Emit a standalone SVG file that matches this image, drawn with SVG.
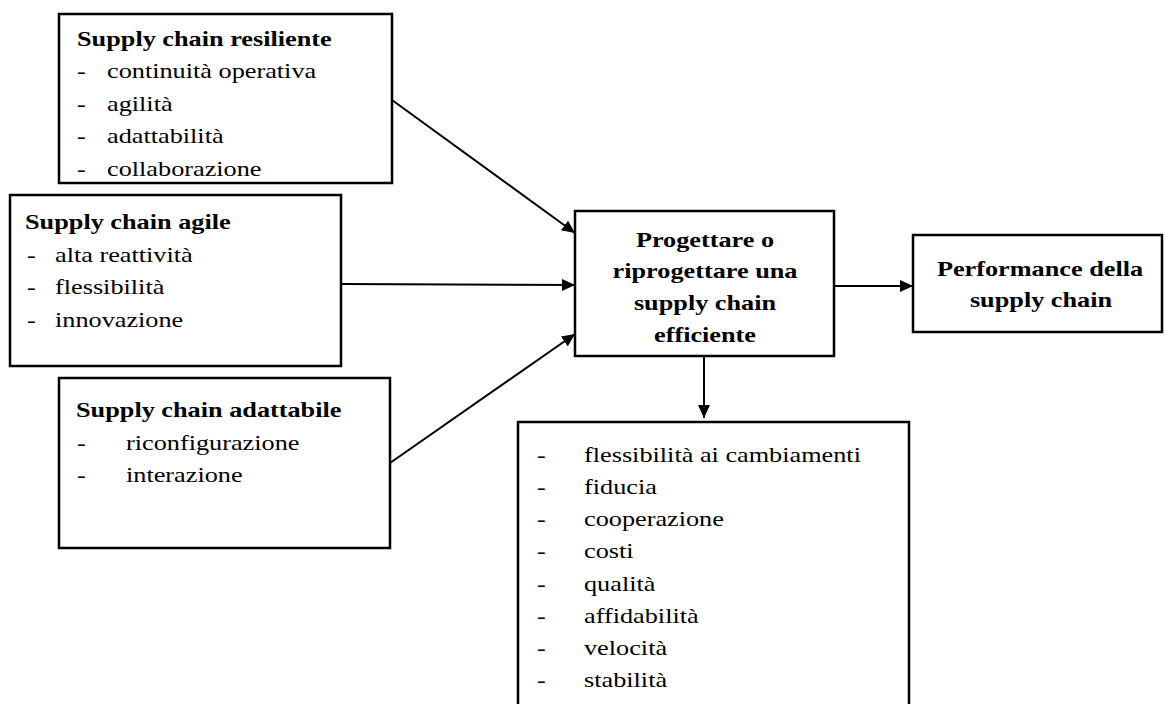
<svg xmlns="http://www.w3.org/2000/svg" width="1165" height="704" viewBox="0 0 1165 704">
  <style>
    .box { fill: #ffffff; stroke: #000000; stroke-width: 2.5; }
    .t { font-family: "Liberation Serif", "Times New Roman", serif; font-size: 21px; fill: #000000; }
    .b { font-weight: bold; }
    .c { text-anchor: middle; }
    .link { stroke: #000000; stroke-width: 2; fill: none; marker-end: url(#arrow); }
  </style>
  <defs>
    <marker id="arrow" markerUnits="userSpaceOnUse" markerWidth="14" markerHeight="12" refX="13" refY="6" orient="auto">
      <path d="M0,0 L13,6 L0,12 Z" fill="#000000"/>
    </marker>
  </defs>
  <rect width="1165" height="704" fill="#ffffff"/>

  <!-- connectors -->
  <g id="connectors">
    <line class="link" x1="392" y1="100" x2="575" y2="233"/>
    <line class="link" x1="341" y1="284" x2="575" y2="285"/>
    <line class="link" x1="390" y1="463" x2="575" y2="334"/>
    <line class="link" x1="704" y1="356" x2="704" y2="418"/>
    <line class="link" x1="834" y1="286" x2="913" y2="286"/>
  </g>

  <!-- resilient supply chain -->
  <g id="resiliente">
    <rect class="box" x="59" y="14" width="333" height="169"/>
    <text class="t b" transform="translate(77 46) scale(1.25 1)">Supply chain resiliente</text>
    <text class="t" transform="translate(77 78) scale(1.25 1)">-</text>
    <text class="t" transform="translate(107 78) scale(1.25 1)">continuità operativa</text>
    <text class="t" transform="translate(77 111) scale(1.25 1)">-</text>
    <text class="t" transform="translate(107 111) scale(1.25 1)">agilità</text>
    <text class="t" transform="translate(77 143) scale(1.25 1)">-</text>
    <text class="t" transform="translate(107 143) scale(1.25 1)">adattabilità</text>
    <text class="t" transform="translate(77 176) scale(1.25 1)">-</text>
    <text class="t" transform="translate(107 176) scale(1.25 1)">collaborazione</text>
  </g>

  <!-- agile supply chain -->
  <g id="agile">
    <rect class="box" x="10" y="195" width="331" height="171"/>
    <text class="t b" transform="translate(25 229) scale(1.25 1)">Supply chain agile</text>
    <text class="t" transform="translate(27 262) scale(1.25 1)">-</text>
    <text class="t" transform="translate(55 262) scale(1.25 1)">alta reattività</text>
    <text class="t" transform="translate(27 294) scale(1.25 1)">-</text>
    <text class="t" transform="translate(55 294) scale(1.25 1)">flessibilità</text>
    <text class="t" transform="translate(27 327) scale(1.25 1)">-</text>
    <text class="t" transform="translate(55 327) scale(1.25 1)">innovazione</text>
  </g>

  <!-- adaptable supply chain -->
  <g id="adattabile">
    <rect class="box" x="59" y="378" width="331" height="170"/>
    <text class="t b" transform="translate(76 417) scale(1.25 1)">Supply chain adattabile</text>
    <text class="t" transform="translate(77 450) scale(1.25 1)">-</text>
    <text class="t" transform="translate(126 450) scale(1.25 1)">riconfigurazione</text>
    <text class="t" transform="translate(77 482) scale(1.25 1)">-</text>
    <text class="t" transform="translate(126 482) scale(1.25 1)">interazione</text>
  </g>

  <!-- central design step -->
  <g id="progettare">
    <rect class="box" x="575" y="211" width="259" height="145"/>
    <text class="t b c" transform="translate(705 247) scale(1.25 1)">Progettare o</text>
    <text class="t b c" transform="translate(705 278) scale(1.25 1)">riprogettare una</text>
    <text class="t b c" transform="translate(705 310) scale(1.25 1)">supply chain</text>
    <text class="t b c" transform="translate(705 342) scale(1.25 1)">efficiente</text>
  </g>

  <!-- performance -->
  <g id="performance">
    <rect class="box" x="913" y="235" width="249" height="97"/>
    <text class="t b c" transform="translate(1040 276) scale(1.25 1)">Performance della</text>
    <text class="t b c" transform="translate(1041 307) scale(1.25 1)">supply chain</text>
  </g>

  <!-- outcome list -->
  <g id="risultati">
    <rect class="box" x="518" y="422" width="391" height="300"/>
    <text class="t" transform="translate(537 462) scale(1.25 1)">-</text>
    <text class="t" transform="translate(584 462) scale(1.25 1)">flessibilità ai cambiamenti</text>
    <text class="t" transform="translate(537 494) scale(1.25 1)">-</text>
    <text class="t" transform="translate(584 494) scale(1.25 1)">fiducia</text>
    <text class="t" transform="translate(537 526) scale(1.25 1)">-</text>
    <text class="t" transform="translate(584 526) scale(1.25 1)">cooperazione</text>
    <text class="t" transform="translate(537 558) scale(1.25 1)">-</text>
    <text class="t" transform="translate(584 558) scale(1.25 1)">costi</text>
    <text class="t" transform="translate(537 591) scale(1.25 1)">-</text>
    <text class="t" transform="translate(584 591) scale(1.25 1)">qualità</text>
    <text class="t" transform="translate(537 623) scale(1.25 1)">-</text>
    <text class="t" transform="translate(584 623) scale(1.25 1)">affidabilità</text>
    <text class="t" transform="translate(537 655) scale(1.25 1)">-</text>
    <text class="t" transform="translate(584 655) scale(1.25 1)">velocità</text>
    <text class="t" transform="translate(537 687) scale(1.25 1)">-</text>
    <text class="t" transform="translate(584 687) scale(1.25 1)">stabilità</text>
  </g>
</svg>
